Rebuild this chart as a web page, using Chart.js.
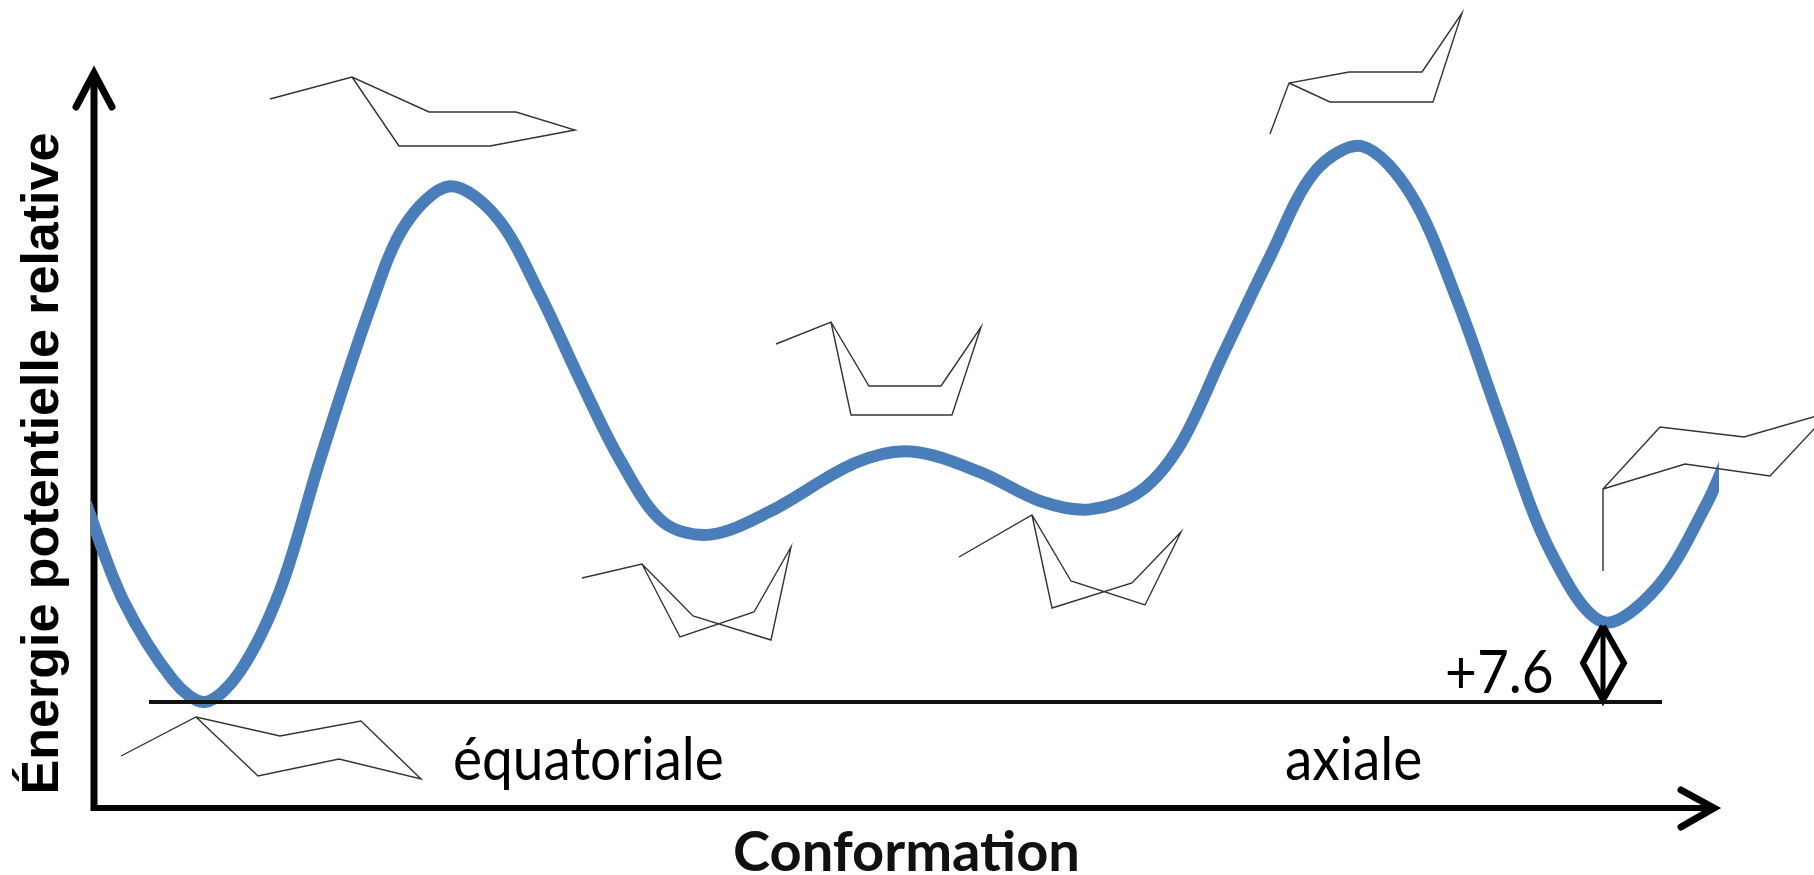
<!DOCTYPE html>
<html>
<head>
<meta charset="utf-8">
<title>Conformations du cyclohexane</title>
<script src="https://cdn.jsdelivr.net/npm/chart.js@4"></script>
<style>
  body { margin: 0; background: #fff; }
</style>
</head>
<body>
<canvas id="energyChart" width="1814" height="875"></canvas>
<script>
// Energy curve (conformation is an arbitrary coordinate)
const conformation = [85, 123, 173, 205, 240, 280, 320, 370, 405, 450, 497, 540, 580, 620, 663, 710, 770, 855, 911, 981, 1040, 1090, 1140, 1180, 1223, 1270, 1315, 1362, 1411, 1457, 1503, 1550, 1603, 1657, 1707, 1730];
const energy = [19.1, 9.7, 2.1, 0, 2.9, 10.6, 23.0, 37.4, 45.3, 49.0, 46.0, 38.7, 30.6, 23.0, 17.1, 15.9, 18.1, 22.7, 23.8, 21.8, 19.1, 18.3, 20.0, 24.4, 33.0, 42.3, 50.4, 52.8, 48.2, 38.2, 26.0, 14.4, 7.6, 10.9, 18.9, 23.9];

// Reference level and the gap to the axial minimum
const baselineX = [149, 1662];
const baselineE = [0, 0];
const gapLabel = '+7.6';
const conformerNames = ['équatoriale', 'axiale'];
const yTitle = 'Énergie potentielle relative';
const xTitle = 'Conformation';

// Ring sketches, as [x, y] lists on the sketch scale
const chairEq = [[121, 756], [196, 717], [280, 736], [361, 721], [421, 779], [339, 759], [258, 776], [196, 717]];
const halfChairLeft = [[270, 99], [352, 77], [429, 112], [516, 112], [575, 130], [490, 146], [399, 146], [352, 77]];
const twistLeft = [[582, 578], [642, 564], [693, 616], [771, 640], [791, 547], [754, 612], [680, 637], [642, 564]];
const boat = [[776, 344], [831, 322], [869, 386], [941, 386], [981, 327], [952, 415], [851, 415], [831, 322]];
const twistRight = [[959, 557], [1032, 515], [1071, 581], [1145, 605], [1181, 532], [1132, 583], [1052, 608], [1032, 515]];
const halfChairRight = [[1270, 134], [1289, 83], [1349, 72], [1422, 72], [1462, 13], [1433, 102], [1330, 102], [1289, 83]];
const chairAx = [[1603, 571], [1603, 489], [1660, 427], [1744, 437], [1830, 412], [1770, 476], [1685, 464], [1603, 489]];
const rings = [chairEq, halfChairLeft, twistLeft, boat, twistRight, halfChairRight, chairAx];

// Axis arrows and the double arrow
const yAxisLine = [[94, 811], [94, 76]];
const yAxisHead = [[76, 107], [94, 73], [112, 107]];
const xAxisLine = [[91, 808], [1712, 808]];
const xAxisHead = [[1681, 790], [1714, 808], [1681, 827]];
const gapStem = [[1603, 626], [1603, 702]];
const gapDiamond = [[1603, 626], [1583, 663], [1603, 700], [1624, 663], [1603, 626]];

function toPoints(list) {
    return list.map(function(p) { return { x: p[0], y: p[1] }; });
}

function sketchLine(list, color, width, cap) {
    return {
        data: toPoints(list),
        yAxisID: 'sketch',
        borderColor: color,
        borderWidth: width,
        borderCapStyle: cap || 'butt',
        borderJoinStyle: 'miter',
        pointRadius: 0,
        tension: 0,
        clip: false
    };
}

// In-plot labels, placed through the scales
function drawLabel(chart, text, xValue, yValue) {
    const ctx = chart.ctx;
    ctx.save();
    ctx.translate(chart.scales.x.getPixelForValue(xValue), chart.scales.sketch.getPixelForValue(yValue));
    ctx.scale(1, 1.08);
    ctx.fillStyle = '#000';
    ctx.font = '55px Lato';
    ctx.textBaseline = 'alphabetic';
    ctx.fillText(text, 0, 0);
    ctx.restore();
}

const textLabels = {
    id: 'textLabels',
    afterDatasetsDraw: function(chart) {
        drawLabel(chart, conformerNames[0], 453, 780);
        drawLabel(chart, conformerNames[1], 1285, 780);
        drawLabel(chart, gapLabel, 1445, 693);
    }
};

const datasets = [
    { data: baselineX.map(function(v, i) { return { x: v, y: baselineE[i] }; }), borderColor: '#111', borderWidth: 4, pointRadius: 0, clip: false },
    sketchLine(gapStem, '#000', 5),
    sketchLine(gapDiamond, '#000', 6)
];
rings.forEach(function(ring) {
    datasets.push(sketchLine(ring, '#333', 1.4));
});
datasets.push({
    data: conformation.map(function(v, i) { return { x: v, y: energy[i] }; }),
    borderColor: '#4A7EBB',
    borderWidth: 12,
    pointRadius: 0,
    tension: 0.33,
    clip: { left: 3, right: 0, top: 100, bottom: 100 }
});
datasets.push(sketchLine(yAxisLine, '#000', 7));
datasets.push(sketchLine(yAxisHead, '#000', 7, 'round'));
datasets.push(sketchLine(xAxisLine, '#000', 6));
datasets.push(sketchLine(xAxisHead, '#000', 7, 'round'));

new Chart(document.getElementById('energyChart').getContext('2d'), {
    type: 'line',
    data: { datasets: datasets },
    plugins: [textLabels],
    options: {
        responsive: false,
        animation: false,
        layout: { padding: { left: 12, right: 95, top: 119, bottom: -6 } },
        plugins: { legend: { display: false }, tooltip: { enabled: false } },
        scales: {
            x: {
                type: 'linear',
                min: 94,
                max: 1719,
                grid: { display: false, drawTicks: false },
                border: { display: false },
                ticks: { display: false },
                title: {
                    display: true,
                    text: xTitle,
                    color: '#111',
                    font: { family: 'Lato', size: 56, weight: 'bold', lineHeight: 1 },
                    padding: { top: 17, bottom: 0 }
                }
            },
            y: {
                min: -10.07,
                max: 55.385,
                grid: { display: false, drawTicks: false },
                border: { display: false },
                ticks: { display: false },
                title: {
                    display: true,
                    text: yTitle,
                    color: '#000',
                    font: { family: 'Liberation Sans', size: 52, weight: 'bold' },
                    padding: { top: 0, bottom: 19.6 }
                }
            },
            sketch: {
                display: false,
                reverse: true,
                min: 119,
                max: 808
            }
        }
    }
});
</script>
</body>
</html>
